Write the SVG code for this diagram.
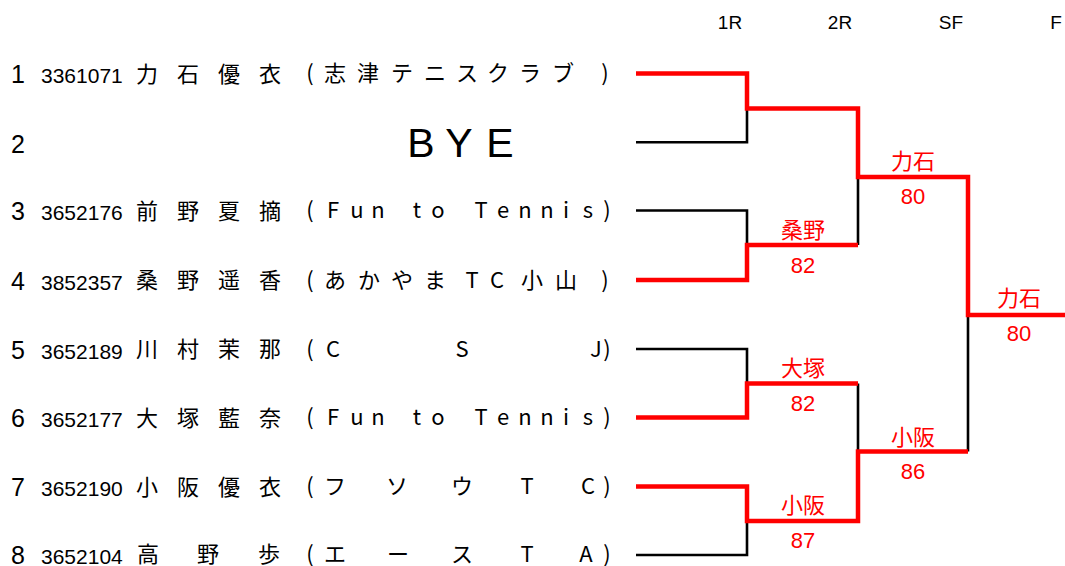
<svg xmlns="http://www.w3.org/2000/svg" width="1065" height="566" viewBox="0 0 1065 566">
<style>
text{fill:#000}
.num{font-family:"Liberation Sans",Arial,sans-serif;font-size:25px}
.id{font-family:"Liberation Sans",Arial,sans-serif;font-size:21px}
.nm{font-family:"Noto Sans CJK JP",sans-serif;font-size:22px;text-anchor:middle}
.cl{font-family:"Noto Sans CJK JP",sans-serif;font-size:22px;text-anchor:middle}
.hd{font-family:"Liberation Sans",Arial,sans-serif;font-size:19px;text-anchor:middle}
.bye{font-family:"Liberation Sans",Arial,sans-serif;font-size:41px;text-anchor:middle}
.lbl{font-family:"Noto Sans CJK JP",sans-serif;font-size:22px;text-anchor:middle;fill:#ff0000}
.sc{font-family:"Liberation Sans",Arial,sans-serif;font-size:22px;text-anchor:middle;fill:#ff0000}
.bk{fill:none;stroke:#000;stroke-width:2.6}
.rd{fill:none;stroke:#ff0000;stroke-width:4.5;stroke-linejoin:miter}
</style>
<rect width="1065" height="566" fill="#fff"/>
<g id="headers">
<text class="hd" x="730" y="29">1R</text>
<text class="hd" x="840" y="29">2R</text>
<text class="hd" x="951" y="29">SF</text>
<text class="hd" x="1056" y="29">F</text>
</g>
<g id="connectors">
<path class="bk" d="M636,142.3H747V108.5"/>
<path class="bk" d="M636,210.5H747V245"/>
<path class="bk" d="M636,349H747V383.5"/>
<path class="bk" d="M636,555H747V521"/>
<path class="bk" d="M858,177V245"/>
<path class="bk" d="M858,383.5V451.5"/>
<path class="bk" d="M968,315V451.5"/>
<path class="rd" d="M636,73.5H747V108.5H858V177H968V315H1065"/>
<path class="rd" d="M636,280H747V245H858"/>
<path class="rd" d="M636,417.5H747V383.5H858"/>
<path class="rd" d="M636,486.5H747V521H858V451.5H968"/>
</g>
<g id="entry1">
<text class="num" x="11" y="83">1</text>
<text class="id" x="41" y="83">3361071</text>
<text class="nm" x="147 188 229 270" y="81.5">力石優衣</text>
<text class="cl" x="310 335 368 402 435 467 498 530 563 605" y="81">(志津テニスクラブ)</text>
</g>
<g id="entry2">
<text class="num" x="11" y="152.5">2</text>
<text class="bye" x="421 459 500" y="157">BYE</text>
</g>
<g id="entry3">
<text class="num" x="11" y="220">3</text>
<text class="id" x="41" y="220">3652176</text>
<text class="nm" x="147 188 229 270" y="218.5">前野夏摘</text>
<text class="cl" x="310 333 357 378 397 417 438 459 481 503 525 547 566 588 607" y="218">(Fun to Tennis)</text>
</g>
<g id="entry4">
<text class="num" x="11" y="289.5">4</text>
<text class="id" x="41" y="289.5">3852357</text>
<text class="nm" x="147 188 229 270" y="288">桑野遥香</text>
<text class="cl" x="310 335 369 402 435 472 497 532 566 605" y="287.5">(あかやまTC小山)</text>
</g>
<g id="entry5">
<text class="num" x="11" y="358.5">5</text>
<text class="id" x="41" y="358.5">3652189</text>
<text class="nm" x="147 188 229 270" y="357">川村茉那</text>
<text class="cl" x="310 333 462 596 607" y="356.5">(CSJ)</text>
</g>
<g id="entry6">
<text class="num" x="11" y="427">6</text>
<text class="id" x="41" y="427">3652177</text>
<text class="nm" x="147 188 229 270" y="425.5">大塚藍奈</text>
<text class="cl" x="310 333 357 378 397 417 438 459 481 503 525 547 566 588 607" y="425">(Fun to Tennis)</text>
</g>
<g id="entry7">
<text class="num" x="11" y="496">7</text>
<text class="id" x="41" y="496">3652190</text>
<text class="nm" x="147 188 229 270" y="494.5">小阪優衣</text>
<text class="cl" x="310 335 397 462 527 588 607" y="494">(フソウTC)</text>
</g>
<g id="entry8">
<text class="num" x="11" y="563.5">8</text>
<text class="id" x="41" y="563.5">3652104</text>
<text class="nm" x="148 208 269" y="561.5">高野歩</text>
<text class="cl" x="310 335 398 462 527 586 607" y="561.5">(エースTA)</text>
</g>
<g id="results">
<text class="lbl" x="803" y="237.5">桑野</text>
<text class="sc" x="803" y="273">82</text>
<text class="lbl" x="913" y="169">力石</text>
<text class="sc" x="913" y="204">80</text>
<text class="lbl" x="1019" y="305.5">力石</text>
<text class="sc" x="1019" y="341">80</text>
<text class="lbl" x="803" y="376">大塚</text>
<text class="sc" x="803" y="411">82</text>
<text class="lbl" x="913" y="445">小阪</text>
<text class="sc" x="913" y="479">86</text>
<text class="lbl" x="803" y="513">小阪</text>
<text class="sc" x="803" y="548">87</text>
</g>
</svg>
